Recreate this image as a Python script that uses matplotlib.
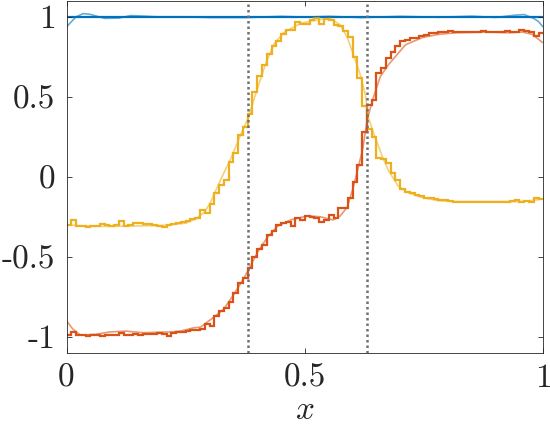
import numpy as np
import matplotlib
matplotlib.use("Agg")
import matplotlib.pyplot as plt

plt.rcParams['mathtext.fontset'] = 'cm'
plt.rcParams['axes.unicode_minus'] = False

# ---- data ----
n_bins = 100
blue_steps = [1.0] * 100
yellow_steps = [
    -0.30, -0.27, -0.305, -0.31, -0.315, -0.305, -0.31, -0.295, -0.30, -0.305,
    -0.30, -0.275, -0.305, -0.30, -0.29, -0.29, -0.295, -0.295, -0.30, -0.305,
    -0.315, -0.30, -0.295, -0.29, -0.285, -0.275, -0.265, -0.26, -0.21, -0.225,
    -0.17, -0.10, -0.05, -0.02, 0.09, 0.15, 0.26, 0.31, 0.39, 0.53,
    0.63, 0.70, 0.77, 0.815, 0.85, 0.89, 0.92, 0.92, 0.97, 0.955,
    0.955, 0.98, 0.995, 0.955, 0.985, 0.98, 0.95, 0.94, 0.91, 0.875,
    0.75, 0.62, 0.44, 0.30, 0.25, 0.12, 0.11, 0.085, 0.025, -0.02,
    -0.075, -0.095, -0.10, -0.115, -0.12, -0.13, -0.135, -0.14, -0.145, -0.148,
    -0.15, -0.155, -0.155, -0.16, -0.155, -0.155, -0.16, -0.155, -0.155, -0.16,
    -0.155, -0.16, -0.155, -0.15, -0.145, -0.155, -0.15, -0.155, -0.13, -0.14,
]
orange_steps = [
    -0.99, -0.973, -0.99, -0.99, -0.998, -0.99, -0.99, -0.995, -0.99, -0.99,
    -0.99, -0.977, -0.99, -0.99, -0.985, -0.99, -0.985, -0.985, -0.985, -0.975,
    -0.98, -0.995, -0.975, -0.97, -0.97, -0.965, -0.96, -0.96, -0.95, -0.92,
    -0.93, -0.87, -0.84, -0.82, -0.78, -0.727, -0.665, -0.633, -0.57, -0.50,
    -0.45, -0.425, -0.3625, -0.34, -0.30, -0.29, -0.28, -0.31, -0.258, -0.27,
    -0.248, -0.25, -0.255, -0.28, -0.27, -0.2375, -0.258, -0.196, -0.196, -0.133,
    -0.03, 0.075, 0.28, 0.45, 0.48, 0.65, 0.68, 0.74, 0.78, 0.815,
    0.846, 0.856, 0.867, 0.867, 0.877, 0.8875, 0.898, 0.898, 0.904, 0.904,
    0.91, 0.904, 0.904, 0.904, 0.904, 0.904, 0.904, 0.91, 0.905, 0.905,
    0.906, 0.906, 0.91, 0.904, 0.904, 0.92, 0.91, 0.906, 0.883, 0.898,
]

blue_smooth_x = [0.0, 0.006, 0.02, 0.035, 0.05, 0.08, 0.11, 0.135, 0.19, 0.25,
                 0.30, 0.38, 0.45, 0.50, 0.55, 0.62, 0.70, 0.78, 0.85, 0.90,
                 0.94, 0.96, 0.98, 0.99, 1.0]
blue_smooth_y = [0.935, 0.956, 1.0, 1.02, 1.015, 0.99, 0.992, 1.008, 1.0, 1.0,
                 0.995, 0.995, 1.003, 0.998, 1.003, 0.995, 1.003, 0.997, 1.004, 0.996,
                 1.01, 1.014, 0.99, 0.97, 0.935]

yellow_smooth_x = [0.0, 0.05, 0.10, 0.20, 0.25, 0.27, 0.29, 0.302, 0.323, 0.344,
                   0.365, 0.382, 0.398, 0.417, 0.434, 0.455, 0.491, 0.526, 0.553, 0.574,
                   0.589, 0.602, 0.616, 0.627, 0.633, 0.648, 0.662, 0.675, 0.696, 0.717,
                   0.746, 0.780, 0.816, 0.885, 0.956, 0.998]
yellow_smooth_y = [-0.30, -0.31, -0.31, -0.305, -0.29, -0.265, -0.22, -0.16, -0.02, 0.11,
                   0.26, 0.375, 0.53, 0.70, 0.825, 0.90, 0.96, 0.98, 0.99, 0.95,
                   0.87, 0.76, 0.64, 0.51, 0.37, 0.24, 0.13, 0.04, -0.06, -0.10,
                   -0.13, -0.15, -0.155, -0.155, -0.155, -0.14]

orange_smooth_x = [0.0, 0.0126, 0.029, 0.061, 0.092, 0.124, 0.161, 0.218, 0.239, 0.266,
                   0.281, 0.308, 0.329, 0.350, 0.371, 0.382, 0.400, 0.421, 0.442, 0.470,
                   0.505, 0.532, 0.560, 0.574, 0.589, 0.602, 0.612, 0.621, 0.631, 0.644,
                   0.658, 0.675, 0.711, 0.746, 0.780, 0.816, 0.885, 0.927, 0.956, 0.977,
                   0.998]
orange_smooth_y = [-0.90, -0.95, -0.99, -0.985, -0.97, -0.965, -0.975, -0.97, -0.965, -0.945,
                   -0.94, -0.88, -0.83, -0.74, -0.64, -0.58, -0.475, -0.38, -0.31, -0.27,
                   -0.245, -0.25, -0.27, -0.245, -0.19, -0.06, 0.06, 0.17, 0.36, 0.50,
                   0.625, 0.70, 0.825, 0.87, 0.89, 0.90, 0.905, 0.90, 0.905, 0.89,
                   0.84]

interfaces = [0.381, 0.630]

x_ticks = [0, 0.5, 1]
x_ticklabels = ['0', '0.5', '1']
y_ticks = [-1, -0.5, 0, 0.5, 1]
y_ticklabels = ['-1', '-0.5', '0', '0.5', '1']

# ---- style ----
c_blue = '#0072BD'
c_orange = '#D95319'
c_yellow = '#EDB120'

fig = plt.figure(figsize=(5.5, 4.25), dpi=100)
ax = fig.add_axes([66.5 / 550, 1 - 352.7 / 425, (543.3 - 66.5) / 550, (352.7 - 0.8) / 425])

edges = np.linspace(0, 1, n_bins + 1)
for vals, col in [(blue_steps, c_blue), (yellow_steps, c_yellow), (orange_steps, c_orange)]:
    ax.stairs(vals, edges, color=col, lw=1.6, baseline=None)

for xs, ys, col in [(blue_smooth_x, blue_smooth_y, c_blue),
                    (yellow_smooth_x, yellow_smooth_y, c_yellow),
                    (orange_smooth_x, orange_smooth_y, c_orange)]:
    ax.plot(xs, ys, color=col, lw=1.2, alpha=0.6)

for xi in interfaces:
    ax.axvline(xi, color='#707070', lw=1.8, dashes=(1, 1.2))

ax.set_xlim(0, 1)
ax.set_ylim(-1.1, 1.1)
ax.set_xticks(x_ticks)
ax.set_xticklabels(x_ticklabels, family='cmr10', fontsize=24)
ax.set_yticks(y_ticks)
ax.set_yticklabels(y_ticklabels, family='cmr10', fontsize=24)
ax.tick_params(direction='in', length=3.5, width=0.6, color='#262626',
               top=True, right=True, pad=8, labelcolor='#262626')
for s in ax.spines.values():
    s.set_color('#262626')
    s.set_linewidth(0.6)
ax.set_xlabel('$x$', fontsize=24, labelpad=0, color='#262626')

fig.savefig('out.png', dpi=100)
